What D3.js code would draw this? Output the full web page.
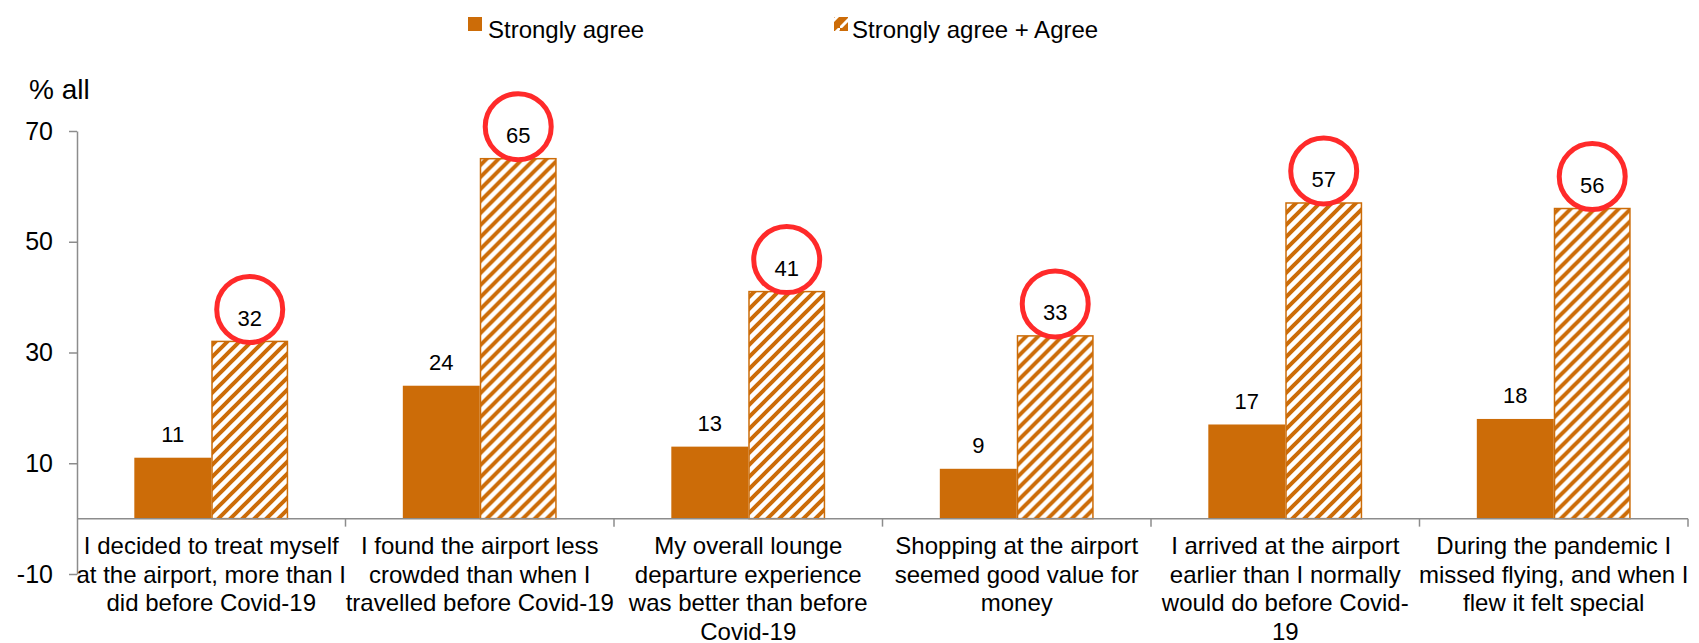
<!DOCTYPE html>
<html>
<head>
<meta charset="utf-8">
<script src="https://cdn.jsdelivr.net/npm/d3@7"></script>
<style>
  body { margin: 0; background: #fff; }
  svg { display: block; font-family: "Liberation Sans", Arial, sans-serif; }
</style>
</head>
<body>
<div class="svg-container"></div>
<script>
// chart data
const categories = [
  ['I decided to treat myself', 'at the airport, more than I', 'did before Covid-19'],
  ['I found the airport less', 'crowded than when I', 'travelled before Covid-19'],
  ['My overall lounge', 'departure experience', 'was better than before', 'Covid-19'],
  ['Shopping at the airport', 'seemed good value for', 'money'],
  ['I arrived at the airport', 'earlier than I normally', 'would do before Covid-', '19'],
  ['During the pandemic I', 'missed flying, and when I', 'flew it felt special']
];
const seriesNames = ['Strongly agree', 'Strongly agree + Agree'];
const stronglyAgree = [11, 24, 13, 9, 17, 18];
const agreeTotal = [32, 65, 41, 33, 57, 56];
const yTicks = [-10, 10, 30, 50, 70];

const svgWidth = 1699;
const svgHeight = 643;
const orange = '#cc6c08';
const red = '#ff2a2a';
const axisGrey = '#8c8c8c';

const svg = d3.select('.svg-container')
  .append('svg')
  .attr('width', svgWidth)
  .attr('height', svgHeight);

// hatch pattern for the second series
const defs = svg.append('defs');
defs.append('pattern')
  .attr('id', 'hatch')
  .attr('patternUnits', 'userSpaceOnUse')
  .attr('width', 12)
  .attr('height', 12)
  .append('path')
  .attr('d', 'M-3,3 l6,-6 M0,12 l12,-12 M9,15 l6,-6')
  .attr('stroke', orange)
  .attr('stroke-width', 4);
defs.append('pattern')
  .attr('id', 'hatch-small')
  .attr('patternUnits', 'userSpaceOnUse')
  .attr('width', 14)
  .attr('height', 14)
  .append('path')
  .attr('d', 'M0,14 l14,-14')
  .attr('stroke', '#fff')
  .attr('stroke-width', 3);

const y = d3.scaleLinear().domain([-10, 70]).range([574, 131]);
const x0 = d3.scaleBand().domain(d3.range(categories.length)).range([77, 1688]);
const x1 = d3.scaleBand().domain([0, 1]).range([0, x0.bandwidth()])
  .paddingInner(0).paddingOuter(0.745);

// Y axis
const yAxis = svg.append('g')
  .attr('transform', 'translate(77,0)')
  .call(d3.axisLeft(y).tickValues(yTicks).tickFormat(d => String(d))
    .tickSize(8).tickSizeOuter(0).tickPadding(16));
yAxis.select('.domain').attr('stroke', axisGrey).attr('stroke-width', 1.5);
yAxis.selectAll('.tick line').attr('stroke', axisGrey).attr('stroke-width', 1.5);
yAxis.selectAll('.tick text')
  .attr('font-size', 25)
  .attr('font-family', '"Liberation Sans", Arial, sans-serif')
  .attr('fill', '#000');

svg.append('text')
  .attr('x', 29)
  .attr('y', 99)
  .attr('font-size', 28)
  .text('% all');

// bars
const groups = svg.append('g').selectAll('g')
  .data(categories)
  .join('g')
  .attr('transform', (d, i) => `translate(${x0(i)},0)`);

groups.append('rect')
  .attr('x', x1(0))
  .attr('y', (d, i) => y(stronglyAgree[i]))
  .attr('width', x1.bandwidth())
  .attr('height', (d, i) => y(0) - y(stronglyAgree[i]))
  .attr('fill', orange);

groups.append('rect')
  .attr('x', x1(1) + 0.75)
  .attr('y', (d, i) => y(agreeTotal[i]))
  .attr('width', x1.bandwidth() - 1.5)
  .attr('height', (d, i) => y(0) - y(agreeTotal[i]))
  .attr('fill', 'url(#hatch)')
  .attr('stroke', orange)
  .attr('stroke-width', 1.5);

// value labels
groups.append('text')
  .attr('x', x1(0) + x1.bandwidth() / 2)
  .attr('y', (d, i) => y(stronglyAgree[i]) - 15.5)
  .attr('text-anchor', 'middle')
  .attr('font-size', 22)
  .text((d, i) => stronglyAgree[i]);

groups.append('circle')
  .attr('cx', x1(1) + x1.bandwidth() / 2)
  .attr('cy', (d, i) => y(agreeTotal[i]) - 32)
  .attr('r', 33)
  .attr('fill', 'none')
  .attr('stroke', red)
  .attr('stroke-width', 5);

groups.append('text')
  .attr('x', x1(1) + x1.bandwidth() / 2)
  .attr('y', (d, i) => y(agreeTotal[i]) - 15.5)
  .attr('text-anchor', 'middle')
  .attr('font-size', 22)
  .text((d, i) => agreeTotal[i]);

// X axis at zero
const xAxis = svg.append('g');
xAxis.append('line')
  .attr('x1', 77).attr('x2', 1688)
  .attr('y1', y(0)).attr('y2', y(0))
  .attr('stroke', axisGrey).attr('stroke-width', 1.5);
xAxis.selectAll('.sep')
  .data(d3.range(1, categories.length + 1))
  .join('line')
  .attr('class', 'sep')
  .attr('x1', i => i < categories.length ? x0(i) : x0.range()[1])
  .attr('x2', i => i < categories.length ? x0(i) : x0.range()[1])
  .attr('y1', y(0)).attr('y2', y(0) + 8)
  .attr('stroke', axisGrey).attr('stroke-width', 1.5);

// category labels
groups.append('text')
  .attr('text-anchor', 'middle')
  .attr('font-size', 24)
  .selectAll('tspan')
  .data(d => d)
  .join('tspan')
  .attr('x', x0.bandwidth() / 2)
  .attr('y', (d, j) => 554 + j * 28.5)
  .text(d => d);

// legend
const legend = svg.append('g');
legend.append('rect')
  .attr('x', 468).attr('y', 17).attr('width', 14).attr('height', 14)
  .attr('fill', orange);
legend.append('text')
  .attr('x', 488).attr('y', 38)
  .attr('font-size', 24)
  .text(seriesNames[0]);
legend.append('rect')
  .attr('x', 834).attr('y', 17).attr('width', 14).attr('height', 14)
  .attr('fill', orange);
legend.append('rect')
  .attr('x', 834).attr('y', 17).attr('width', 14).attr('height', 14)
  .attr('fill', 'url(#hatch-small)');
legend.append('text')
  .attr('x', 852).attr('y', 38)
  .attr('font-size', 24)
  .text(seriesNames[1]);
</script>
</body>
</html>
